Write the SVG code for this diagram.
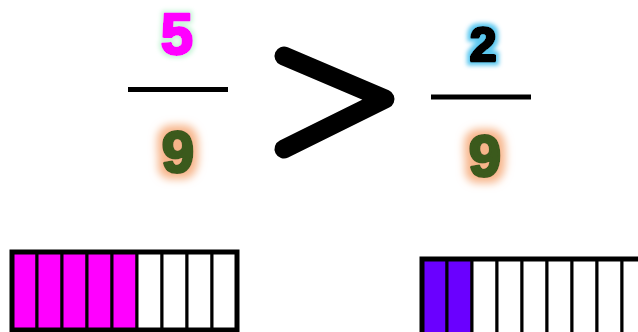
<svg xmlns="http://www.w3.org/2000/svg" width="638" height="332" viewBox="0 0 638 332">
<style>
.num{font-family:"Liberation Sans",Arial,sans-serif;font-weight:bold;text-anchor:middle;stroke-width:3;stroke-linejoin:round}
.bar{stroke:#000;stroke-width:5;fill:none}
.cell{stroke:#000;stroke-width:3}
</style>
<defs>
<filter id="glowGreen" x="-50%" y="-50%" width="200%" height="200%">
<feMorphology in="SourceAlpha" operator="dilate" radius="2" result="d"/>
<feGaussianBlur in="d" stdDeviation="2" result="b"/>
<feFlood flood-color="#c8f5d8"/>
<feComposite in2="b" operator="in" result="g"/>
<feMerge><feMergeNode in="g"/><feMergeNode in="SourceGraphic"/></feMerge>
</filter>
<filter id="glowOrange" x="-50%" y="-50%" width="200%" height="200%">
<feMorphology in="SourceAlpha" operator="dilate" radius="5" result="d"/>
<feGaussianBlur in="d" stdDeviation="4" result="b"/>
<feFlood flood-color="#f7b58a"/>
<feComposite in2="b" operator="in" result="g"/>
<feMerge><feMergeNode in="g"/><feMergeNode in="SourceGraphic"/></feMerge>
</filter>
<filter id="glowCyan" x="-50%" y="-50%" width="200%" height="200%">
<feMorphology in="SourceAlpha" operator="dilate" radius="3" result="d"/>
<feGaussianBlur in="d" stdDeviation="2" result="b"/>
<feFlood flood-color="#5cc8f0"/>
<feComposite in2="b" operator="in" result="g"/>
<feMerge><feMergeNode in="g"/><feMergeNode in="SourceGraphic"/></feMerge>
</filter>
</defs>
<rect width="638" height="332" fill="#fff"/>

<g id="fraction-left">
<text class="num" x="177" y="53.5" font-size="58" fill="#ff00ff" stroke="#ff00ff" filter="url(#glowGreen)">5</text>
<line x1="128" y1="89.5" x2="228" y2="89.5" stroke="#000" stroke-width="5"/>
<text class="num" x="178" y="171.5" font-size="58" fill="#3b5a1e" stroke="#3b5a1e" filter="url(#glowOrange)">9</text>
</g>

<g id="greater-than">
<polyline points="284,56 385,99 284,149" fill="none" stroke="#000" stroke-width="19" stroke-linecap="round" stroke-linejoin="round"/>
</g>

<g id="fraction-right">
<text class="num" x="483" y="60.5" font-size="48" fill="#000" stroke="#000" filter="url(#glowCyan)">2</text>
<line x1="431" y1="97" x2="531" y2="97" stroke="#000" stroke-width="5"/>
<text class="num" x="485" y="175.5" font-size="58" fill="#3b5a1e" stroke="#3b5a1e" filter="url(#glowOrange)">9</text>
</g>

<g id="bar-left">
<g class="cell" fill="#ff00ff">
<rect x="12" y="252" width="25" height="78"/>
<rect x="37" y="252" width="25" height="78"/>
<rect x="62" y="252" width="25" height="78"/>
<rect x="87" y="252" width="25" height="78"/>
<rect x="112" y="252" width="25" height="78"/>
</g>
<g class="cell" fill="#fff">
<rect x="137" y="252" width="25" height="78"/>
<rect x="162" y="252" width="25" height="78"/>
<rect x="187" y="252" width="25" height="78"/>
<rect x="212" y="252" width="25" height="78"/>
</g>
<rect class="bar" x="12" y="252" width="225" height="78"/>
</g>

<g id="bar-right">
<g class="cell" fill="#6a00ff">
<rect x="422" y="259" width="25" height="80"/>
<rect x="447" y="259" width="25" height="80"/>
</g>
<g class="cell" fill="#fff">
<rect x="472" y="259" width="25" height="80"/>
<rect x="497" y="259" width="25" height="80"/>
<rect x="522" y="259" width="25" height="80"/>
<rect x="547" y="259" width="25" height="80"/>
<rect x="572" y="259" width="25" height="80"/>
<rect x="597" y="259" width="25" height="80"/>
<rect x="622" y="259" width="25" height="80"/>
</g>
<rect class="bar" x="422" y="259" width="225" height="80"/>
</g>
</svg>
